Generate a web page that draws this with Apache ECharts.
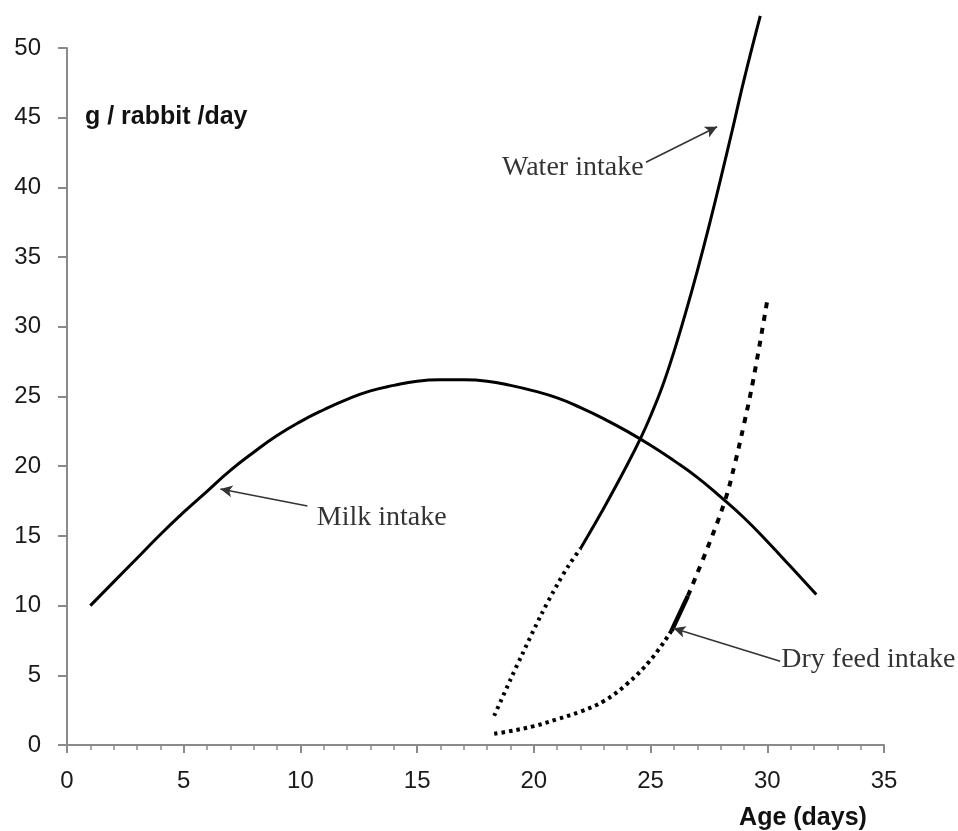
<!DOCTYPE html>
<html>
<head>
<meta charset="utf-8">
<script src="https://cdn.jsdelivr.net/npm/echarts@6/dist/echarts.min.js"></script>
<style>
html,body{margin:0;padding:0;background:#fff;}
#chart{width:958px;height:831px;}
</style>
</head>
<body>
<div id="chart"></div>
<script>
// ---- data ----
var xTicks = [0, 5, 10, 15, 20, 25, 30, 35];
var yTicks = [0, 5, 10, 15, 20, 25, 30, 35, 40, 45, 50];

var milkX = [1, 2, 3, 4, 5, 6, 7, 8, 9, 10, 11, 12, 13, 14, 15, 16, 17, 18, 19, 20, 21, 22, 23, 24, 25, 26, 27, 28, 29, 30, 31, 32.1];
var milkY = [10.0, 11.7, 13.4, 15.1, 16.7, 18.2, 19.7, 21.0, 22.2, 23.2, 24.05, 24.8, 25.4, 25.8, 26.1, 26.2, 26.2, 26.1, 25.8, 25.4, 24.9, 24.2, 23.4, 22.5, 21.5, 20.4, 19.2, 17.8, 16.3, 14.6, 12.8, 10.8];

var waterDotX = [18.3, 19.0, 19.5, 20.3, 21.0, 21.5, 22.0];
var waterDotY = [2.1, 4.7, 6.5, 9.3, 11.5, 12.9, 14.1];
var waterSolidX = [22.0, 23.0, 24.0, 24.6, 25.0, 25.5, 26.0, 26.5, 27.0, 27.5, 28.0, 28.5, 29.0, 29.7];
var waterSolidY = [14.1, 17.0, 20.1, 22.1, 23.6, 25.7, 28.2, 31.0, 34.0, 37.2, 40.6, 44.1, 47.7, 52.3];

var dryDotX = [18.3, 19.0, 20.0, 21.0, 22.0, 23.0, 24.0, 25.0, 25.9];
var dryDotY = [0.8, 1.0, 1.35, 1.85, 2.4, 3.15, 4.4, 6.1, 8.2];
var drySolidX = [25.9, 26.6];
var drySolidY = [8.2, 10.7];
var dryDashX = [26.6, 27.5, 28.2, 28.6, 29.0, 29.4, 30.0];
var dryDashY = [10.7, 14.4, 17.6, 20.1, 23.0, 26.2, 31.9];

var noteText = ['Water intake', 'Milk intake', 'Dry feed intake'];
var noteAt = [[24.7, 41.4], [10.7, 16.3], [30.6, 6.15]];
var arrowFrom = [[24.8, 41.8], [10.3, 17.15], [30.55, 6.0]];
var arrowTo = [[27.85, 44.35], [6.57, 18.36], [25.98, 8.37]];

var yTitle = 'g / rabbit /day';
var xTitle = 'Age (days)';

function pairs(xs, ys) { return xs.map(function (x, i) { return [x, ys[i]]; }); }

var chart = echarts.init(document.getElementById('chart'), null, { renderer: 'canvas' });
var axisColor = '#8a8a8a';
var black = '#000';

function curve(name, xs, ys, type, width, smooth) {
  return {
    type: 'line', name: name, data: pairs(xs, ys), smooth: smooth,
    showSymbol: false, symbol: 'none', clip: false, silent: true,
    lineStyle: { color: black, width: width, type: type, cap: 'butt' },
    animation: false, z: 3
  };
}

var option = {
  animation: false,
  backgroundColor: '#fff',
  grid: { left: 67, right: 74, top: 48, bottom: 86 },
  xAxis: {
    type: 'value', min: 0, max: 35, interval: 5,
    axisLine: { show: true, onZero: false, lineStyle: { color: axisColor, width: 2 } },
    axisTick: { show: true, length: 8, lineStyle: { color: axisColor, width: 2 } },
    minorTick: { show: true, splitNumber: 5, length: 5, lineStyle: { color: axisColor, width: 1.5 } },
    splitLine: { show: false },
    axisLabel: { margin: 24, fontFamily: 'Liberation Sans', fontSize: 24, color: '#1a1a1a',
      formatter: function (v) { return xTicks.indexOf(v) >= 0 ? String(v) : ''; } }
  },
  yAxis: {
    type: 'value', min: 0, max: 50, interval: 5,
    axisLine: { show: true, lineStyle: { color: axisColor, width: 2 } },
    axisTick: { show: true, length: 9, lineStyle: { color: axisColor, width: 2 } },
    splitLine: { show: false },
    axisLabel: { margin: 26, fontFamily: 'Liberation Sans', fontSize: 24, color: '#1a1a1a',
      formatter: function (v) { return yTicks.indexOf(v) >= 0 ? String(v) : ''; } }
  },
  graphic: [
    { type: 'text', x: 85, y: 117, style: { text: yTitle, font: 'bold 25px "Liberation Sans"', fill: '#111', align: 'left', verticalAlign: 'middle' } },
    { type: 'text', x: 803, y: 818, style: { text: xTitle, font: 'bold 25px "Liberation Sans"', fill: '#111', align: 'center', verticalAlign: 'middle' } }
  ],
  series: [
    curve('Milk intake', milkX, milkY, 'solid', 3, 0.5),
    curve('Water intake (dotted)', waterDotX, waterDotY, [3, 4.5], 4, 0.3),
    curve('Water intake', waterSolidX, waterSolidY, 'solid', 3, 0.4),
    curve('Dry feed intake (dotted)', dryDotX, dryDotY, [3.5, 4], 4, 0.4),
    curve('Dry feed intake (solid)', drySolidX, drySolidY, 'solid', 4.5, 0),
    curve('Dry feed intake (dashed)', dryDashX, dryDashY, [6, 7], 4, 0.4),
    {
      type: 'scatter', name: 'notes', silent: true, symbolSize: 0, animation: false, z: 5,
      data: noteText.map(function (t, i) {
        return {
          value: noteAt[i],
          label: {
            show: true, formatter: t,
            position: i === 0 ? 'left' : 'right', distance: 0,
            fontFamily: 'Liberation Serif', fontSize: 28, color: '#000'
          }
        };
      }),
      markLine: {
        silent: true, animation: false, symbol: ['none', 'arrow'], symbolSize: [9, 12],
        lineStyle: { color: '#333', width: 1.6, type: 'solid' },
        label: { show: false },
        data: arrowFrom.map(function (f, i) { return [{ coord: f }, { coord: arrowTo[i] }]; })
      }
    }
  ]
};
chart.setOption(option);
</script>
</body>
</html>
